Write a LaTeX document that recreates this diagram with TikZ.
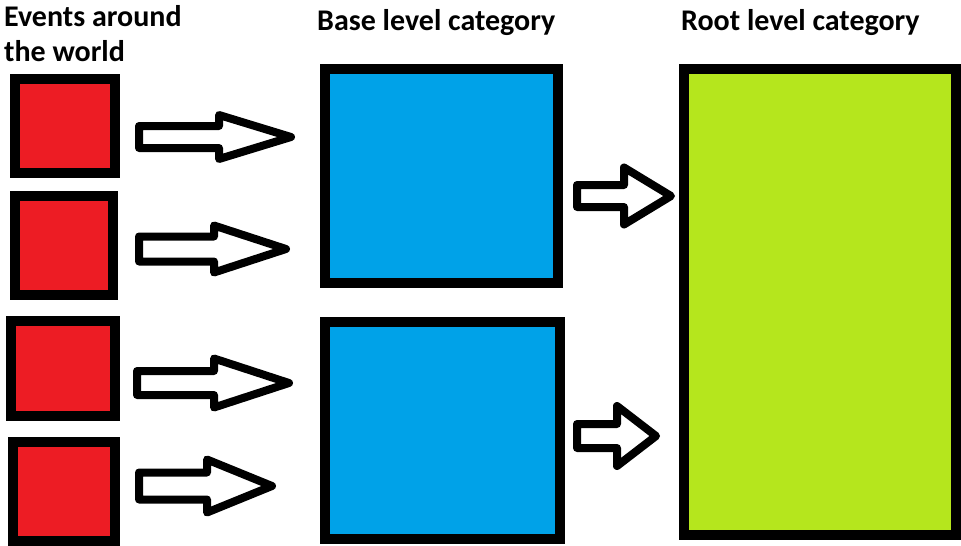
\documentclass[tikz,border=0pt]{standalone}
\usepackage{fontspec}
\setmainfont{Carlito}
\usetikzlibrary{positioning}
\definecolor{eventred}{RGB}{237,28,36}
\definecolor{baseblue}{RGB}{0,162,232}
\definecolor{rootgreen}{RGB}{181,230,29}
\tikzset{
  catbox/.style={rectangle,draw=black,line width=10pt,inner sep=0pt,outer sep=0pt},
  eventbox/.style={catbox,fill=eventred},
  basebox/.style={catbox,fill=baseblue},
  rootbox/.style={catbox,fill=rootgreen},
  heading/.style={inner sep=0pt,align=left,font=\bfseries\fontsize{30}{35}\selectfont},
  arrowline/.style={draw=black,line width=8pt,line join=round,fill=white},
  pics/fatarrow/.style n args={4}{code={
    \draw[arrowline] (0,#3) -- (#1,#3) -- (#1,#4) -- (#2,0) -- (#1,-#4) -- (#1,-#3) -- (0,-#3) -- cycle;
  }}
}

\begin{document}
\begin{tikzpicture}[x=1pt,y=-1pt]
  \useasboundingbox (0,0) rectangle (961,546);
  % headings
  \node[heading,anchor=base west] (hevents) at (4,61) {Events around\\the world};
  \node[heading,anchor=base west] (hbase) at (317,30) {Base level category};
  \node[heading,anchor=base west] (hroot) at (681,30) {Root level category};
  % events
  \node[eventbox,minimum width=100pt,minimum height=94pt,anchor=north west] (ev1) at (15,79) {};
  \node[eventbox,minimum width=98pt,minimum height=99pt,anchor=north west] (ev2) at (15,196) {};
  \node[eventbox,minimum width=104pt,minimum height=95pt,anchor=north west] (ev3) at (11,321) {};
  \node[eventbox,minimum width=102pt,minimum height=99pt,anchor=north west] (ev4) at (13,442) {};
  % categories
  \node[basebox,minimum width=233pt,minimum height=214pt,anchor=north west] (base1) at (325,69) {};
  \node[basebox,minimum width=235pt,minimum height=217pt,anchor=north west] (base2) at (325,322) {};
  \node[rootbox,minimum width=272pt,minimum height=466pt,anchor=north west] (root) at (684,69) {};
  % arrows
  \pic at (139,137) {fatarrow={80}{152}{11}{22}};
  \pic at (139,249) {fatarrow={75}{147}{12.5}{23.5}};
  \pic at (137,383) {fatarrow={77}{152}{12}{24.5}};
  \pic at (139,486) {fatarrow={68}{133}{13.5}{26.5}};
  \pic at (577,196) {fatarrow={47}{94}{11}{28.5}};
  \pic at (577,436) {fatarrow={40}{79}{12}{30}};
\end{tikzpicture}
\end{document}
